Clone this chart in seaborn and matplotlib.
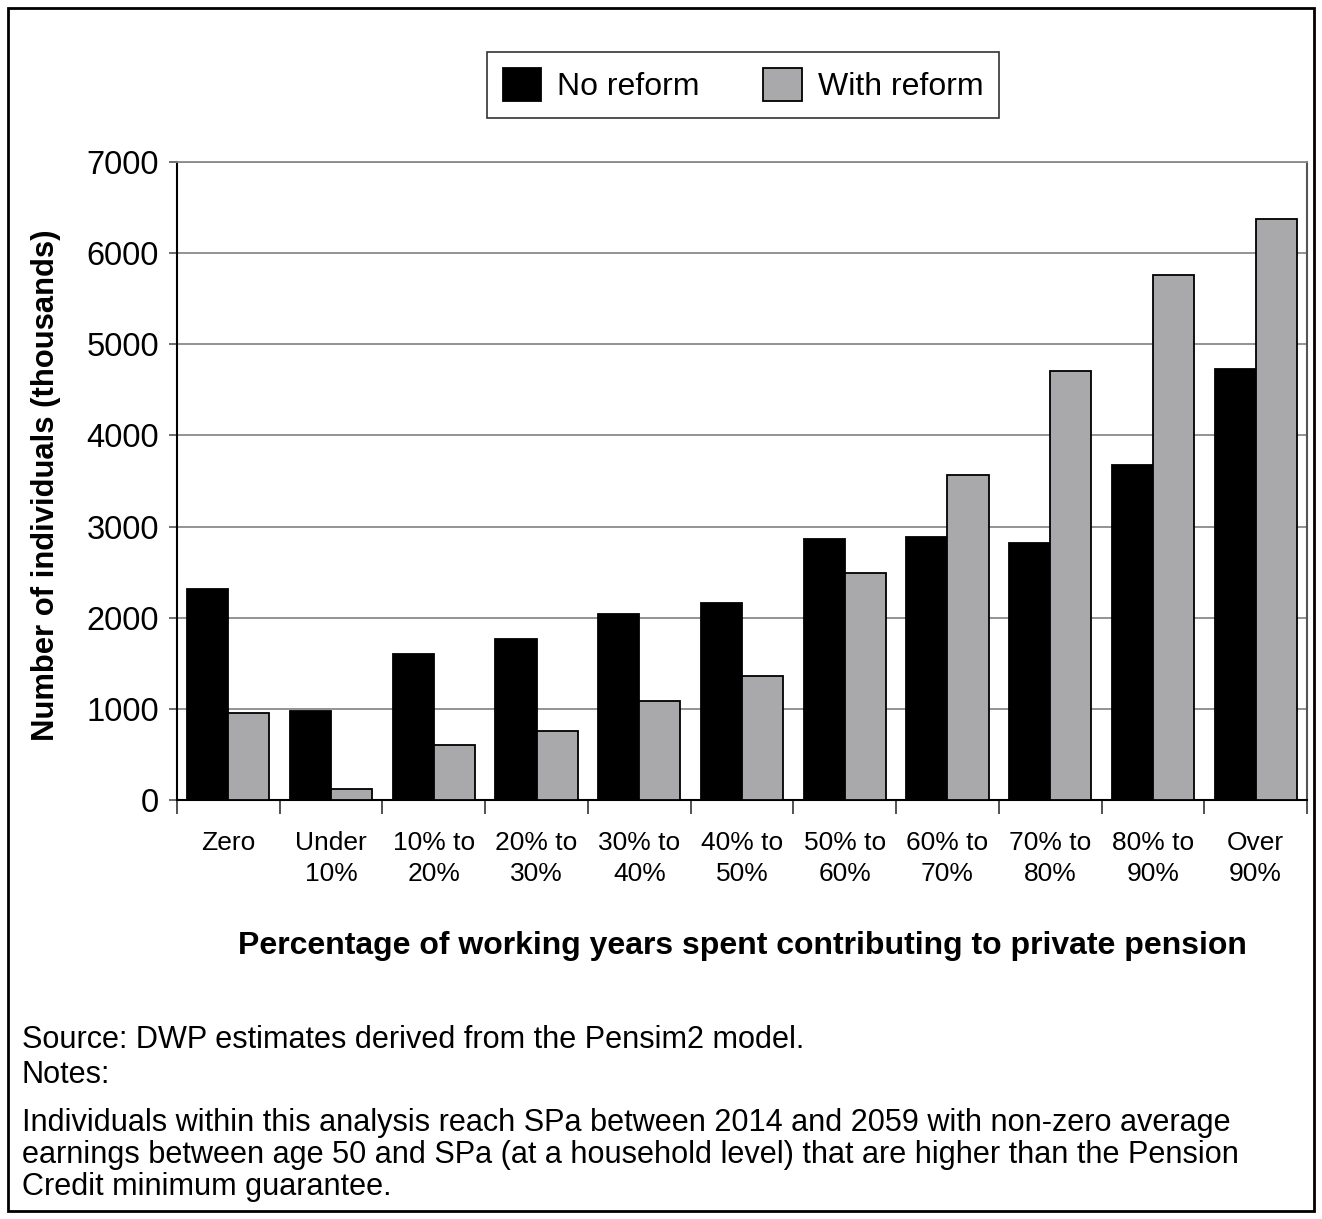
import matplotlib
matplotlib.use("Agg")
import matplotlib.pyplot as plt
from matplotlib.patches import Rectangle
from matplotlib.ticker import FixedLocator
import seaborn as sns
import pandas as pd

# Share of working years spent contributing to a private pension
bands = ["Zero", "Under\n10%", "10% to\n20%", "20% to\n30%", "30% to\n40%",
         "40% to\n50%", "50% to\n60%", "60% to\n70%", "70% to\n80%",
         "80% to\n90%", "Over\n90%"]
# Number of individuals (thousands)
no_reform = [2315, 978, 1597, 1766, 2042, 2158, 2860, 2888, 2818, 3672, 4731]
with_reform = [956, 124, 601, 762, 1088, 1361, 2495, 3571, 4705, 5764, 6375]
scenarios = ["No reform", "With reform"]

df = pd.DataFrame({
    "band": bands * 2,
    "value": no_reform + with_reform,
    "scenario": [scenarios[0]] * len(bands) + [scenarios[1]] * len(bands),
})

sns.set_style("white")
plt.rcParams["font.family"] = ["Liberation Sans", "DejaVu Sans"]
plt.rcParams["text.color"] = "black"
plt.rcParams["axes.labelcolor"] = "black"
plt.rcParams["xtick.color"] = "black"
plt.rcParams["ytick.color"] = "black"

W, H = 1322, 1219
fig = plt.figure(figsize=(W / 100, H / 100), dpi=100)
ax = fig.add_axes([177 / W, 1 - 800 / H, (1307 - 177) / W, (800 - 162) / H])

sns.barplot(data=df, x="band", y="value", hue="scenario", order=bands,
            hue_order=scenarios, palette=["#000000", "#A8A9AC"],
            edgecolor="black", linewidth=1.3, width=0.8, ax=ax, zorder=3)

ax.set_ylim(0, 7000)
ax.set_xlim(-0.5, len(bands) - 0.5)
ax.set_yticks(range(0, 7001, 1000))
ax.set_yticklabels([str(v) for v in range(0, 7001, 1000)])
ax.yaxis.grid(True, color="#8a8a8a", linewidth=1.3, zorder=0)
ax.set_axisbelow(True)

ax.tick_params(axis="y", which="major", direction="out", length=6,
               width=1.2, color="#555555", labelcolor="black", labelsize=23.5,
               pad=7, left=True)
ax.tick_params(axis="x", which="major", length=0, labelsize=19,
               labelcolor="black", pad=22)
ax.xaxis.set_minor_locator(FixedLocator([i - 0.5 for i in range(len(bands) + 1)]))
ax.tick_params(axis="x", which="minor", direction="out", length=10,
               width=1.2, color="#333333", bottom=True)
for lab in ax.get_xticklabels():
    lab.set_linespacing(1.38)

for side in ["left", "bottom"]:
    ax.spines[side].set_color("black")
    ax.spines[side].set_linewidth(1.5)
ax.spines["top"].set_color("#8a8a8a")
ax.spines["top"].set_linewidth(1.3)
ax.spines["right"].set_color("#555555")
ax.spines["right"].set_linewidth(1.5)

ax.set_xlabel("")
ax.set_ylabel("")
fig.text(46 / W, 1 - 485 / H, "Number of individuals (thousands)",
         rotation=90, ha="center", va="center", fontsize=22.3, fontweight="bold")
fig.text(742 / W, 1 - 946 / H,
         "Percentage of working years spent contributing to private pension",
         ha="center", va="center", fontsize=23, fontweight="bold")

handles, labels = ax.get_legend_handles_labels()
ax.get_legend().remove()
leg = fig.legend(handles, labels, loc="center", ncol=2,
                 bbox_to_anchor=(743 / W, 1 - 85 / H), frameon=True,
                 fancybox=False, edgecolor="black", fontsize=23,
                 handlelength=1.2, handleheight=1.2, columnspacing=2.0,
                 handletextpad=0.5, borderpad=0.5)
leg.get_frame().set_linewidth(1.2)

notes = [
    (1040, "Source: DWP estimates derived from the Pensim2 model."),
    (1075, "Notes:"),
    (1123, "Individuals within this analysis reach SPa between 2014 and 2059 with non-zero average"),
    (1155, "earnings between age 50 and SPa (at a household level) that are higher than the Pension"),
    (1187, "Credit minimum guarantee."),
]
for y, txt in notes:
    fig.text(22 / W, 1 - y / H, txt, ha="left", va="center", fontsize=22.1)

fig.patches.append(Rectangle((8 / W, 8 / H), (W - 16) / W, (H - 16) / H,
                             transform=fig.transFigure, fill=False,
                             edgecolor="black", linewidth=2))

fig.savefig("out.png", dpi=100)
